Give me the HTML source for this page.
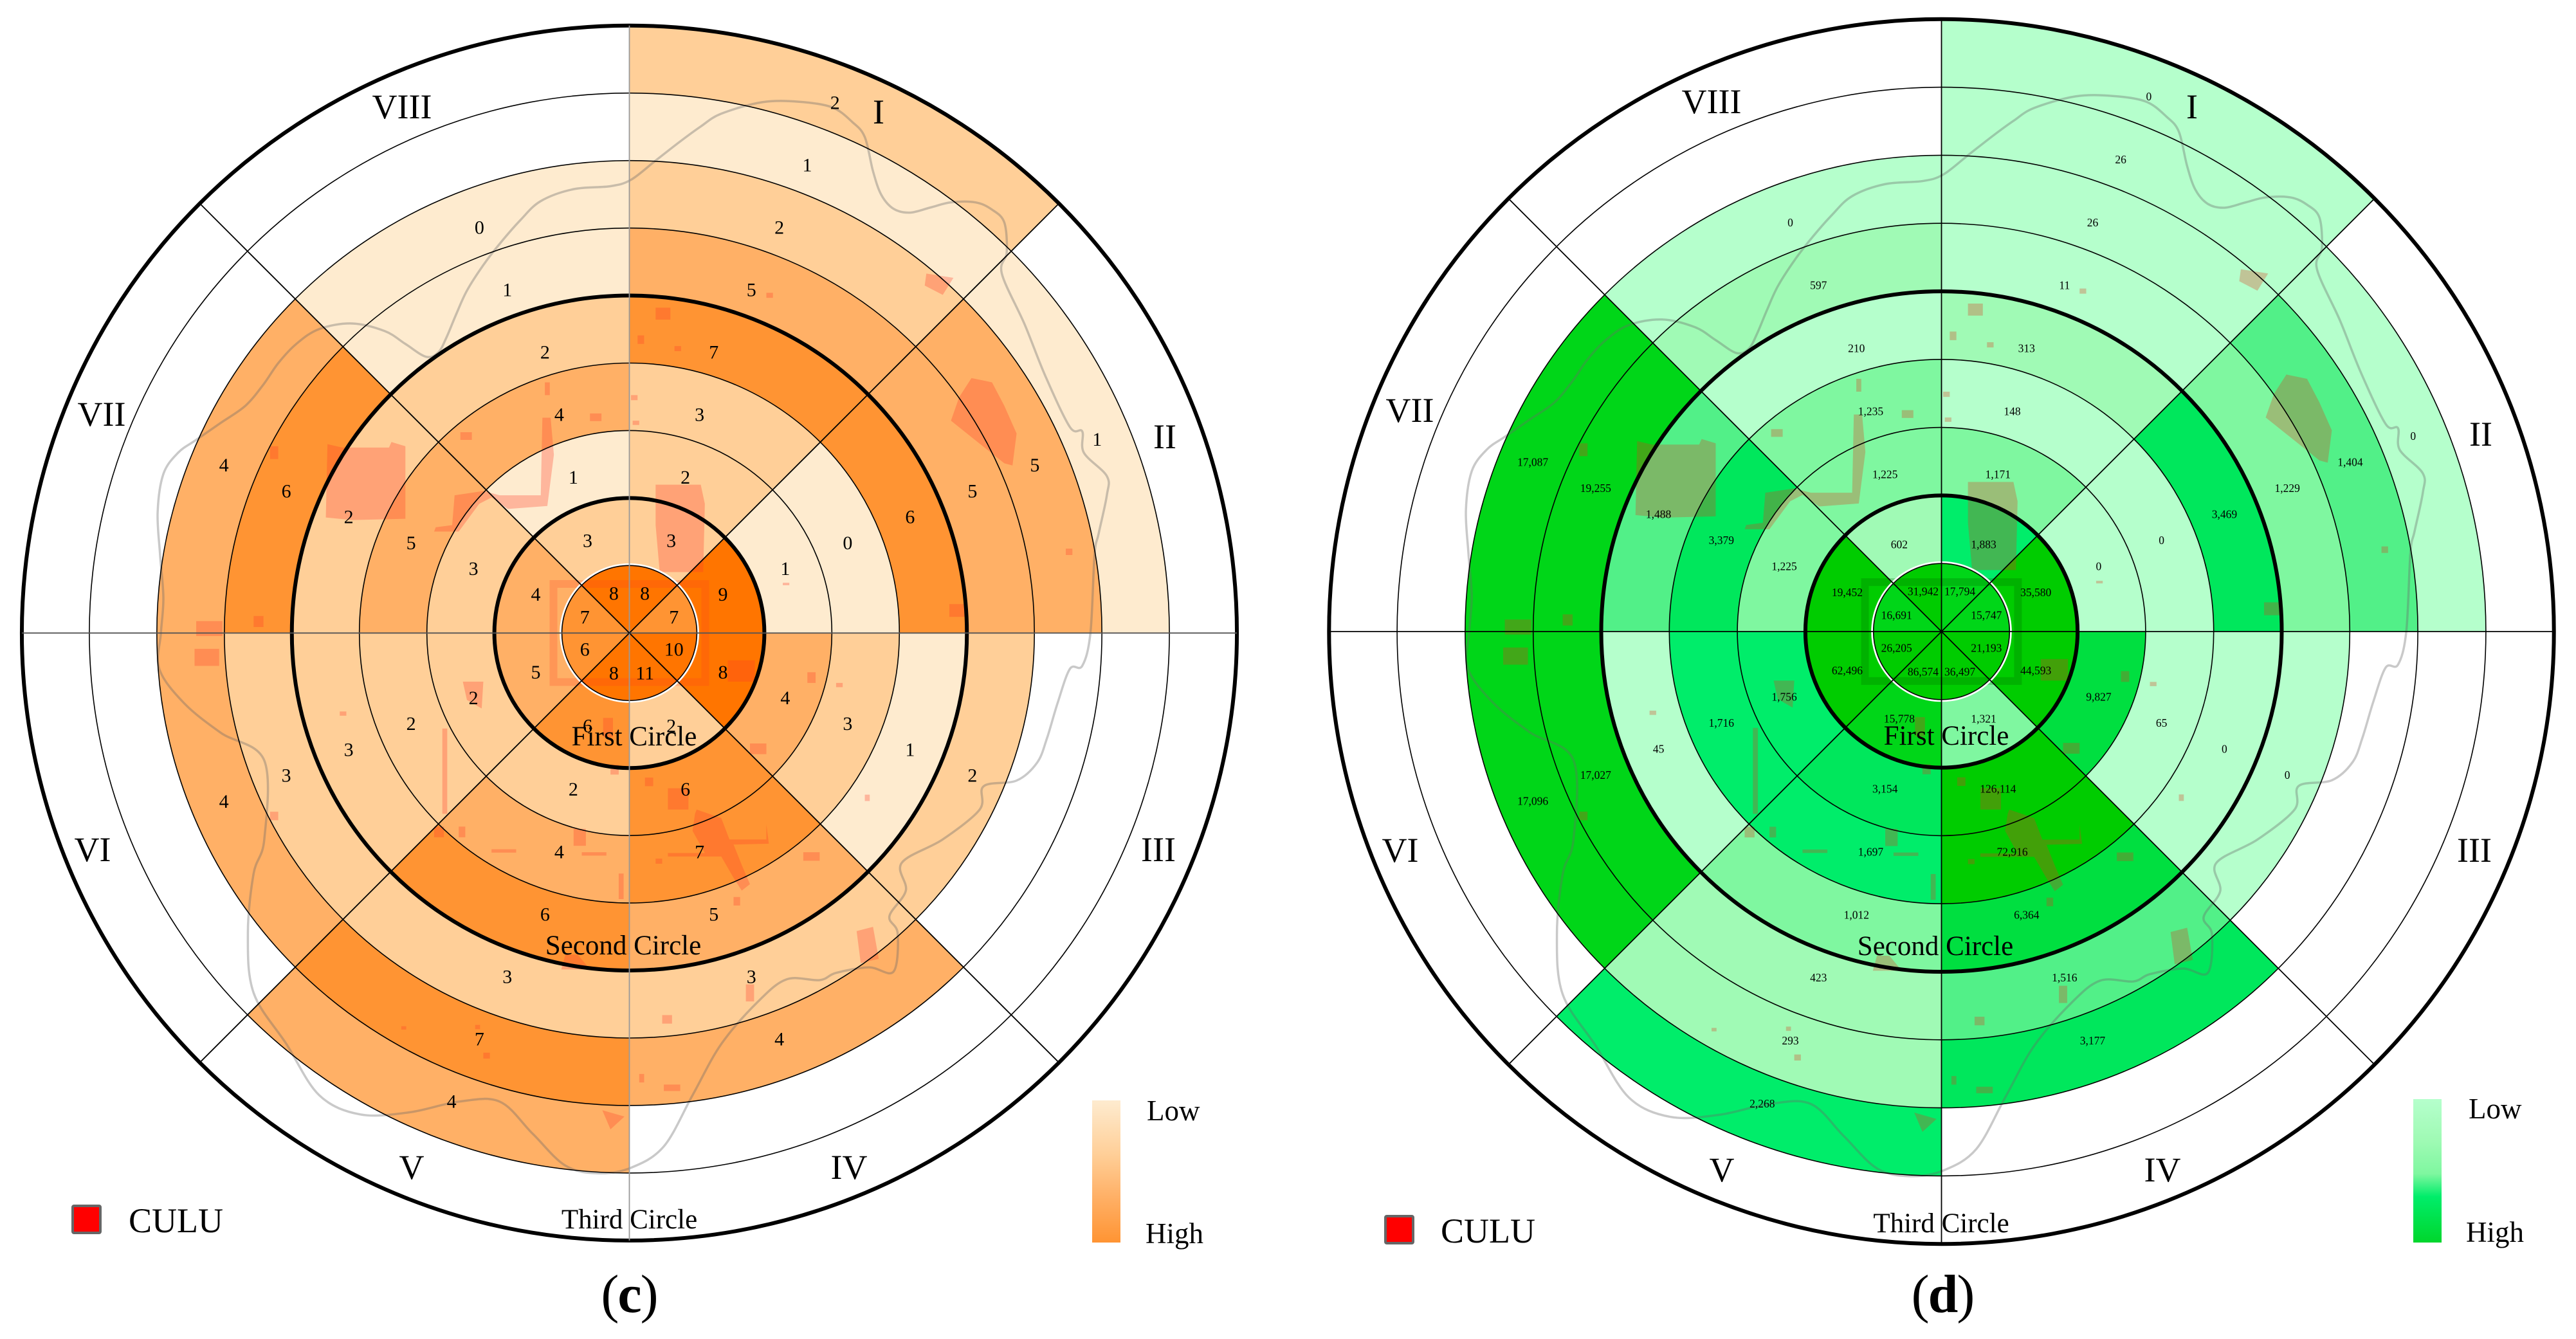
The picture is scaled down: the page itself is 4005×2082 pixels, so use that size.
<!DOCTYPE html>
<html lang="en">
<head>
<meta charset="utf-8">
<title>CULU radial maps</title>
<style>
html,body{margin:0;padding:0;background:#fff;}
#stage{position:absolute;left:0;top:0;width:4005px;height:2082px;overflow:hidden;background:#fff;}
svg{display:block;}
text{font-family:"Liberation Serif",serif;fill:#000;}
.nonscale{vector-effect:non-scaling-stroke;}
</style>
</head>
<body>
<div id="stage">
<svg id="figure" xmlns="http://www.w3.org/2000/svg" width="4005" height="2082" viewBox="0 0 4005 2082">
  <defs>
    <linearGradient id="grad-orange" x1="0" y1="0" x2="0" y2="1">
      <stop offset="0" stop-color="#FEEBCF"/>
      <stop offset="0.38" stop-color="#FFCF98"/>
      <stop offset="0.68" stop-color="#FFB066"/>
      <stop offset="1" stop-color="#FF9433"/>
    </linearGradient>
    <linearGradient id="grad-green" x1="0" y1="0" x2="0" y2="1">
      <stop offset="0" stop-color="#B5FFCC"/>
      <stop offset="0.28" stop-color="#A0FAB5"/>
      <stop offset="0.52" stop-color="#7FF7A0"/>
      <stop offset="0.68" stop-color="#00ED6A"/>
      <stop offset="1" stop-color="#00D62C"/>
    </linearGradient>
    <g id="city-map" transform="scale(1.2755,0.663) translate(-768,-1483)">
      <path d="M400,1040L418,1048L475,1048L478,1035L495,1045L495,1215L430,1218L398,1212Z
      M662,978L672,978L676,1065L668,1185L620,1192L600,1165L585,1180L560,1245L530,1245L532,1235L552,1230L555,1160L590,1150L610,1160L660,1160Z
      M800,1135L855,1135L860,1180L858,1340L805,1340L800,1230Z
      M1185,885L1210,895L1225,950L1240,1015L1235,1090L1225,1085L1160,985L1170,930Z
      M1130,640L1163,650L1150,690L1128,668Z
      M800,720h18v28h-18Z M778,785h8v20h-8Z M823,810h8v12h-8Z M935,685h8v12h-8Z M665,895h6v30h-6Z M720,968h14v18h-14Z M562,1012h14v18h-14Z
      M240,1455h32v35h-32Z M310,1443h12v26h-12Z M330,1045h10v30h-10Z M1300,1285h8v15h-8Z M1158,1415h22v30h-22Z M770,925h8v12h-8Z M772,985h8v10h-8Z
      M850,1897L880,1917L890,1967L935,1967L935,1932L938,1977L895,1979L905,2027L915,2072L905,2087L895,2057L880,2007L815,2007L815,1999L860,1999L845,1947L848,1907Z
      M815,1847h25v50h-25Z M787,1822h10v20h-10Z
      M1045,2182L1065,2172L1072,2247L1050,2257Z
      M685,2272L690,2237L705,2237L720,2272Z
      M735,2602L762,2617L745,2647Z
      M810,2542h20v15h-20Z M910,2307h10v40h-10Z M808,2379h12v20h-12Z M590,2467h8v14h-8Z M540,1707h6v200h-6Z
      M700,1942h15v40h-15Z M710,1997h30v8h-30Z M600,1990h30v8h-30Z M530,1937h12v25h-12Z M560,1937h8v25h-8Z
      M565,1597L590,1597L588,1660L570,1640Z M980,1997h20v20h-20Z M915,1742h20v25h-20Z M895,2102h8v20h-8Z M755,2047h6v60h-6Z
      M1055,1862h6v15h-6Z M330,1902h10v20h-10Z M415,1667h8v10h-8Z
      M888,1547h33v50h-33Z M736,1682h12v45h-12Z M745,1792h10v23h-10Z M985,1575h10v25h-10Z M238,1520h30v40h-30Z
      M800,2012h8v12h-8Z M580,2402h6v10h-6Z M780,2517h6v20h-6Z M490,2405h6v8h-6Z M955,1365h8v6h-8Z M1020,1600h8v10h-8Z"/>
      <rect class="nonscale" x="675.5" y="1368" width="185" height="230" fill="none" stroke-width="12"/>
      <polyline id="city-boundary" class="nonscale" fill="none" stroke="rgba(105,105,105,0.36)" stroke-width="3.5" stroke-linejoin="round" points="195,1567 197,1483 200,1400 196,1300 193,1200 200,1110 218,1060 240,1030 270,990 300,950 322,900 340,850 362,805 390,770 430,757 470,775 495,805 520,835 535,825 545,790 557,735 570,680 590,620 610,570 635,515 660,470 700,442 745,435 770,420 800,375 830,330 855,295 880,265 930,238 975,237 1015,250 1040,285 1055,320 1065,400 1075,455 1090,488 1110,497 1135,485 1160,473 1190,473 1210,490 1225,520 1228,590 1222,640 1250,760 1275,880 1305,1000 1320,1010 1322,1060 1350,1115 1350,1160 1340,1250 1335,1300 1330,1483 1320,1560 1305,1567 1290,1647 1277,1730 1265,1787 1240,1829 1200,1842 1195,1897 1150,1967 1100,2022 1105,2087 1085,2147 1095,2187 1090,2277 1060,2267 1020,2280 1000,2297 960,2295 925,2347 880,2447 845,2567 810,2687 770,2737 730,2750 690,2732 650,2657 610,2582 560,2582 500,2607 440,2612 390,2567 350,2447 310,2327 303,2187 310,2047 323,1967 323,1782 270,1717 225,1647 195,1567"/>
    </g>
  </defs>

  <g id="chart-c"></g>
  <g id="chart-d"></g>

  <g font-size="54" text-anchor="middle">
    <text x="625" y="184">VIII</text>
    <text x="1366" y="192">I</text>
    <text x="1811" y="697">II</text>
    <text x="158" y="662">VII</text>
    <text x="1801" y="1339">III</text>
    <text x="144" y="1339">VI</text>
    <text x="640" y="1833">V</text>
    <text x="1320" y="1833">IV</text>
    <text x="986" y="1159" font-size="43">First Circle</text>
    <text x="969" y="1484" font-size="43">Second Circle</text>
    <text x="978.5" y="1910" font-size="43">Third Circle</text>
    <rect x="1698" y="1711" width="44" height="221" fill="url(#grad-orange)"/>
    <text x="1783" y="1742" font-size="45" text-anchor="start">Low</text>
    <text x="1781" y="1933" font-size="45" text-anchor="start">High</text>
    <rect x="113" y="1875" width="43" height="42" rx="2" fill="#FF0000" stroke="#666" stroke-width="4"/>
    <text x="200" y="1916" text-anchor="start">CULU</text>
    <text x="978" y="2040" font-size="84" letter-spacing="-2">(<tspan font-weight="bold">c</tspan>)</text>
  </g>

  <g font-size="54" text-anchor="middle">
    <text x="2661" y="176">VIII</text>
    <text x="3408" y="184">I</text>
    <text x="3857" y="693">II</text>
    <text x="2192" y="656">VII</text>
    <text x="3847" y="1340">III</text>
    <text x="2177" y="1340">VI</text>
    <text x="2677" y="1837">V</text>
    <text x="3362" y="1837">IV</text>
    <text x="3026" y="1158" font-size="43">First Circle</text>
    <text x="3009" y="1485" font-size="43">Second Circle</text>
    <text x="3018" y="1916" font-size="43">Third Circle</text>
    <rect x="3752" y="1709" width="44" height="223" fill="url(#grad-green)"/>
    <text x="3838" y="1739" font-size="45" text-anchor="start">Low</text>
    <text x="3834" y="1931" font-size="45" text-anchor="start">High</text>
    <rect x="2154" y="1891" width="43" height="42" rx="2" fill="#FF0000" stroke="#666" stroke-width="4"/>
    <text x="2240" y="1932" text-anchor="start">CULU</text>
    <text x="3020" y="2040" font-size="84" letter-spacing="-2">(<tspan font-weight="bold">d</tspan>)</text>
  </g>
</svg>
</div>
<script>
// Categories: sectors run clockwise from north; each array lists values from the innermost ring outward.
const sectorNames = ['i', 'ii', 'iii', 'iv', 'v', 'vi', 'vii', 'viii'];

// Panel (c): counts
const countSectorI = [8, 3, 2, 3, 7, 5, 2, 1, 2];
const countSectorII = [7, 9, 1, 0, 6, 5, 5, 1];
const countSectorIII = [10, 8, 4, 3, 1, 2];
const countSectorIV = [11, 2, 6, 7, 5, 3, 4];
const countSectorV = [8, 6, 2, 4, 6, 3, 7, 4];
const countSectorVI = [6, 5, 2, 2, 3, 3, 4];
const countSectorVII = [7, 4, 3, 5, 2, 6, 4];
const countSectorVIII = [8, 3, 1, 4, 2, 1, 0];

// Panel (d): areas
const areaSectorI = [17794, 1883, 1171, 148, 313, 11, 26, 26, 0];
const areaSectorII = [15747, 35580, 0, 0, 3469, 1229, 1404, 0];
const areaSectorIII = [21193, 44593, 9827, 65, 0, 0];
const areaSectorIV = [36497, 1321, 126114, 72916, 6364, 1516, 3177];
const areaSectorV = [86574, 15778, 3154, 1697, 1012, 423, 293, 2268];
const areaSectorVI = [26205, 62496, 1756, 1716, 45, 17027, 17096];
const areaSectorVII = [16691, 19452, 1225, 3379, 1488, 19255, 17087];
const areaSectorVIII = [31942, 602, 1225, 1235, 210, 597, 0];

const countSeries = [countSectorI, countSectorII, countSectorIII, countSectorIV, countSectorV, countSectorVI, countSectorVII, countSectorVIII];
const areaSeries = [areaSectorI, areaSectorII, areaSectorIII, areaSectorIV, areaSectorV, areaSectorVI, areaSectorVII, areaSectorVIII];

// Colour classes
const countBreaks = [1, 3, 5, 7];
const countColors = ['#FEEBCF', '#FFCF98', '#FFB066', '#FF9433', '#FF7500'];
const areaBreaks = [250, 1000, 1400, 1600, 2500, 5000, 10000, 19300];
const areaColors = ['#B5FFCC', '#A0FAB5', '#7FF7A0', '#52F088', '#00ED6A', '#00E75C', '#00DF40', '#00D618', '#00CC00'];

const SVG_NS = 'http://www.w3.org/2000/svg';

function classify(value, breaks, colors) {
  for (let i = 0; i < breaks.length; i++) {
    if (value <= breaks[i]) return colors[i];
  }
  return colors[colors.length - 1];
}

function polar(radius, degFromNorth) {
  const a = degFromNorth * Math.PI / 180;
  return [radius * Math.sin(a), -radius * Math.cos(a)];
}

function sectorPath(r0, r1, a0, a1) {
  const p0 = polar(r1, a0), p1 = polar(r1, a1), p2 = polar(r0, a1), p3 = polar(r0, a0);
  let d = 'M' + p0[0] + ',' + p0[1] + 'A' + r1 + ',' + r1 + ' 0 0 1 ' + p1[0] + ',' + p1[1];
  if (r0 > 0) {
    d += 'L' + p2[0] + ',' + p2[1] + 'A' + r0 + ',' + r0 + ' 0 0 0 ' + p3[0] + ',' + p3[1] + 'Z';
  } else {
    d += 'L0,0Z';
  }
  return d;
}

// Label offset from the centre, in ring-width units, for a sector next to the vertical or horizontal axis.
function labelOffset(sector, ring, cfg) {
  const nearVertical = sector === 0 || sector === 3 || sector === 4 || sector === 7;
  let across, along;
  if (nearVertical) {
    along = ring === 1 ? 0.59 : (ring === 2 ? cfg.ringTwoAlong : (ring - 0.5) * 0.925);
    across = ring === 1 ? cfg.ringOneAcross : (ring <= 5 ? 0.21 * ring + 0.2 : 0.413 * ring - 0.67);
    const sx = sector === 0 || sector === 3 ? 1 : -1;
    const sy = sector === 0 || sector === 7 ? -1 : 1;
    return [sx * across, sy * along];
  }
  along = ring === 1 ? 0.66 : (ring - 0.5) * 0.924;
  across = ring === 1 ? 0.24 : (ring - 0.5) * 0.383;
  const hx = sector === 1 || sector === 2 ? 1 : -1;
  const hy = sector === 1 || sector === 6 ? -1 : 1;
  return [hx * along, hy * across];
}

function drawChart(root, cfg) {
  root.setAttribute('transform', 'translate(' + cfg.cx + ',' + cfg.cy + ')');
  const step = cfg.step;

  cfg.series.forEach(function (values, s) {
    values.forEach(function (value, i) {
      const cell = document.createElementNS(SVG_NS, 'path');
      cell.setAttribute('d', sectorPath(i * step, (i + 1) * step, s * 45, (s + 1) * 45));
      cell.setAttribute('fill', classify(value, cfg.breaks, cfg.colors));
      
      
      root.appendChild(cell);
    });
  });

  const map = document.createElementNS(SVG_NS, 'use');
  map.setAttribute('href', '#city-map');
  map.setAttribute('fill', cfg.patchFill);
  map.setAttribute('stroke', cfg.moatStroke);
  map.setAttribute('stroke-width', '0');
  map.setAttribute('transform', 'scale(' + (step / 104.95) + ')');
  
  
  root.appendChild(map);

  const halo = document.createElementNS(SVG_NS, 'circle');
  halo.setAttribute('r', step + 2);
  halo.setAttribute('fill', 'none');
  halo.setAttribute('stroke', '#fff');
  halo.setAttribute('stroke-width', '3');
  
  
  root.appendChild(halo);

  for (let k = 1; k <= 9; k++) {
    const bold = k === 2 || k === 5 || k === 9;
    const ring = document.createElementNS(SVG_NS, 'circle');
    ring.setAttribute('r', k * step);
    ring.setAttribute('fill', 'none');
    ring.setAttribute('stroke', '#000');
    ring.setAttribute('stroke-width', bold ? '6' : '1.6');
    
    
    root.appendChild(ring);
  }

  for (let d = 0; d < 8; d++) {
    const tip = polar(9 * step, d * 45);
    const spoke = document.createElementNS(SVG_NS, 'line');
    spoke.setAttribute('x1', 0);
    spoke.setAttribute('y1', 0);
    spoke.setAttribute('x2', tip[0]);
    spoke.setAttribute('y2', tip[1]);
    spoke.setAttribute('stroke', d % 4 === 0 ? cfg.verticalColor : (d % 2 === 0 ? cfg.horizontalColor : '#000'));
    spoke.setAttribute('stroke-width', '1.8');
    
    
    root.appendChild(spoke);
  }

  cfg.series.forEach(function (values, s) {
    values.forEach(function (value, i) {
      const off = labelOffset(s, i + 1, cfg);
      const label = document.createElementNS(SVG_NS, 'text');
      label.setAttribute('x', off[0] * step);
      label.setAttribute('y', off[1] * step);
      label.setAttribute('dy', '0.34em');
      label.setAttribute('text-anchor', 'middle');
      label.setAttribute('font-size', cfg.fontSize);
      
      
      label.textContent = value.toLocaleString('en-US');
      root.appendChild(label);
    });
  });
}

// Smooth the hand-traced city boundary (decorative map layer, not chart data).
function smoothBoundary() {
  const line = document.getElementById('city-boundary');
  const pts = line.getAttribute('points').trim().split(/\s+/).map(function (p) {
    return p.split(',').map(Number);
  });
  const n = pts.length - 1;
  let d = 'M' + pts[0][0] + ',' + pts[0][1];
  for (let i = 0; i < n; i++) {
    const p0 = pts[(i - 1 + n) % n], p1 = pts[i], p2 = pts[(i + 1) % n], p3 = pts[(i + 2) % n];
    d += 'C' + (p1[0] + (p2[0] - p0[0]) / 6) + ',' + (p1[1] + (p2[1] - p0[1]) / 6) + ' ' +
      (p2[0] - (p3[0] - p1[0]) / 6) + ',' + (p2[1] - (p3[1] - p1[1]) / 6) + ' ' + p2[0] + ',' + p2[1];
  }
  const path = document.createElementNS(SVG_NS, 'path');
  path.setAttribute('d', d);
  path.setAttribute('fill', 'none');
  path.setAttribute('stroke', 'rgba(105,105,105,0.36)');
  path.setAttribute('stroke-width', '3.5');
  path.setAttribute('class', 'nonscale');
  
  
  line.parentNode.replaceChild(path, line);
}

smoothBoundary();

drawChart(document.getElementById('chart-c'), {
  cx: 978.5, cy: 984.3, step: 104.95, series: countSeries,
  breaks: countBreaks, colors: countColors,
  patchFill: 'rgba(255,60,40,0.3)', moatStroke: 'rgba(255,60,30,0.22)',
  verticalColor: '#999', horizontalColor: '#555', fontSize: 30,
  ringOneAcross: 0.23, ringTwoAlong: 1.37
});
drawChart(document.getElementById('chart-d'), {
  cx: 3018.5, cy: 982, step: 105.8, series: areaSeries,
  breaks: areaBreaks, colors: areaColors,
  patchFill: 'rgba(220,60,30,0.3)', moatStroke: 'rgba(0,110,0,0.28)',
  verticalColor: '#000', horizontalColor: '#000', fontSize: 17.5,
  ringOneAcross: 0.27, ringTwoAlong: 1.28
});
</script>
</body>
</html>
